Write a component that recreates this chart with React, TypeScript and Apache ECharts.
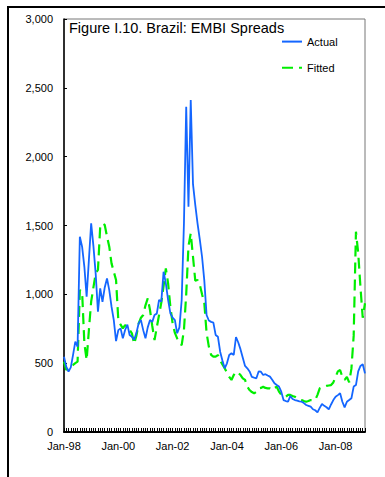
import React, { useEffect, useRef } from "react";
import * as echarts from "echarts";

const START_YEAR = 1998;
const MONTH_NAMES = ["Jan", "Feb", "Mar", "Apr", "May", "Jun", "Jul", "Aug", "Sep", "Oct", "Nov", "Dec"];

const actual = [
  547, 474, 438, 470, 560, 656, 620, 1419, 1346, 1200, 983, 1250,
  1516, 1350, 1150, 874, 1044, 946, 1050, 1116, 1031, 910, 813, 660,
  740, 753, 680, 741, 780, 705, 692, 670, 720, 790, 813, 740,
  680, 760, 813, 800, 850, 860, 959, 947, 1164, 1080, 960, 862,
  830, 813, 717, 760, 959, 1516, 2363, 1636, 2412, 1800, 1650, 1516,
  1400, 1273, 1100, 850, 810, 800, 794, 705, 692, 583, 520, 463,
  499, 560, 572, 560, 690, 650, 600, 540, 480, 463, 440, 400,
  395, 390, 440, 438, 414, 420, 410, 402, 380, 354, 341, 330,
  293, 232, 225, 220, 262, 240, 232, 228, 222, 220, 210, 196,
  190, 184, 165, 158, 143, 175, 203, 190, 180, 165, 200, 232,
  256, 268, 281, 220, 179, 220, 232, 245, 330, 341, 440, 480,
  492, 426,
];

const fitted = [
  511, 450, 474, 480, 487, 500, 511, 1031, 1019, 644, 523, 741,
  947, 1050, 1153, 1177, 1491, 1516, 1504, 1420, 1346, 1225, 1164, 1104,
  813, 780, 753, 777, 760, 741, 717, 640, 700, 789, 830, 850,
  920, 971, 886, 770, 668, 760, 850, 940, 1060, 1189, 1080, 910,
  789, 720, 680, 644, 632, 741, 1000, 1350, 1443, 1273, 1100, 1104,
  1070, 1000, 935, 720, 620, 560, 547, 547, 559, 520, 490, 463,
  430, 400, 378, 414, 438, 430, 414, 390, 378, 329, 305, 290,
  281, 293, 317, 320, 329, 320, 317, 317, 305, 320, 329, 293,
  270, 256, 256, 270, 269, 262, 256, 245, 235, 232, 225, 220,
  225, 232, 232, 232, 270, 317, 325, 329, 335, 338, 341, 360,
  400, 440, 450, 400, 378, 400, 360, 460, 700, 1455, 1300, 1050,
  830, 935,
];

const categories: string[] = actual.map((_, i) => {
  const y = START_YEAR + Math.floor(i / 12);
  return MONTH_NAMES[i % 12] + "-" + String(y % 100).padStart(2, "0");
});

const yTicks = { min: 0, max: 3000, interval: 500 };

const FONT = "'Liberation Sans', Arial, sans-serif";

export default function App() {
  const ref = useRef<HTMLDivElement>(null);
  useEffect(() => {
    if (!ref.current) return;
    const chart = echarts.init(ref.current, undefined, { renderer: "svg" });
    chart.setOption({
      animation: false,
      backgroundColor: "#ffffff",
      textStyle: { fontFamily: FONT },
      title: {
        text: "Figure I.10. Brazil: EMBI Spreads",
        left: 69,
        top: 20,
        padding: 0,
        textStyle: { fontFamily: FONT, fontSize: 14.5, fontWeight: "normal", color: "#000" },
      },
      legend: {
        orient: "vertical",
        left: 281,
        top: 36,
        padding: 0,
        itemWidth: 20,
        itemHeight: 14,
        itemGap: 15,
        selectedMode: false,
        itemStyle: { opacity: 0, borderWidth: 0 },
        textStyle: { fontFamily: FONT, fontSize: 11, color: "#000" },
        data: ["Actual", "Fitted"],
      },
      grid: {
        left: 64,
        top: 19,
        right: 20,
        bottom: 45,
        show: true,
        borderColor: "#777",
        borderWidth: 1,
        backgroundColor: "transparent",
      },
      xAxis: {
        type: "category",
        data: categories,
        boundaryGap: false,
        axisLine: { show: true, lineStyle: { color: "#000", width: 2 } },
        axisTick: { show: true, inside: true, length: 4, interval: 0, lineStyle: { color: "#000", width: 1 } },
        axisLabel: {
          interval: (index: number) => index % 24 === 0,
          fontFamily: FONT,
          fontSize: 11,
          color: "#000",
          margin: 8,
        },
        splitLine: { show: false },
      },
      yAxis: {
        type: "value",
        min: yTicks.min,
        max: yTicks.max,
        interval: yTicks.interval,
        axisLine: { show: true, lineStyle: { color: "#000", width: 1.5 } },
        axisTick: { show: true, inside: true, length: 3, lineStyle: { color: "#000" } },
        axisLabel: {
          fontFamily: FONT,
          fontSize: 11,
          color: "#000",
          margin: 11,
          formatter: (v: number) => v.toLocaleString("en-US"),
        },
        splitLine: { show: false },
      },
      series: [
        {
          name: "Actual",
          type: "line",
          data: actual,
          symbol: "none",
          z: 3,
          lineStyle: { color: "#1466ff", width: 1.8 },
          itemStyle: { color: "#1466ff" },
        },
        {
          name: "Fitted",
          type: "line",
          data: fitted,
          symbol: "none",
          z: 2,
          lineStyle: { color: "#00ee00", width: 2.2, type: [11, 6] },
          itemStyle: { color: "#00ee00" },
        },
      ],
      graphic: [
        { type: "line", shape: { x1: 7, y1: 7, x2: 385, y2: 7 }, style: { stroke: "#000", lineWidth: 2 } },
        { type: "line", shape: { x1: 8, y1: 6, x2: 8, y2: 477 }, style: { stroke: "#000", lineWidth: 2 } },
      ],
    });
    return () => chart.dispose();
  }, []);
  return (
    <div
      ref={ref}
      style={{ position: "absolute", left: 0, top: 0, width: 385, height: 477 }}
    />
  );
}
